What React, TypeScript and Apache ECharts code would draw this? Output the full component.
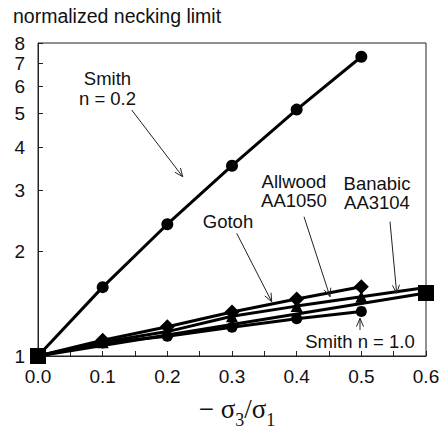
import React, { useEffect, useRef } from "react";
import * as echarts from "echarts";

// ---- data ----
const xShort = [0, 0.1, 0.2, 0.3, 0.4, 0.5];
const xLong = [0, 0.1, 0.2, 0.3, 0.4, 0.5, 0.6];
const smithN02 = [1, 1.58, 2.4, 3.54, 5.14, 7.3];
const smithN10 = [1, 1.09, 1.14, 1.21, 1.28, 1.345];
const gotoh = [1, 1.11, 1.215, 1.34, 1.46, 1.585];
const allwood = [1, 1.096, 1.176, 1.302, 1.393, 1.483, 1.577];
const banabicX = [0, 0.6];
const banabic = [1, 1.52];
const yTickValues = [1, 2, 3, 4, 5, 6, 7, 8];

const SANS = "'Liberation Sans', Arial, Helvetica, sans-serif";
const SERIF = "'Liberation Serif', 'Times New Roman', serif";
const INK = "#111";

function pairs(xs: number[], ys: number[]) {
  return ys.map((y, i) => [xs[i], y]);
}

function arrow(x1: number, y1: number, x2: number, y2: number) {
  const ang = Math.atan2(y2 - y1, x2 - x1);
  const L = 9;
  const a = 0.4;
  const p1 = [x2 - L * Math.cos(ang - a), y2 - L * Math.sin(ang - a)];
  const p2 = [x2 - L * Math.cos(ang + a), y2 - L * Math.sin(ang + a)];
  return [
    { type: "line", shape: { x1, y1, x2, y2 }, style: { stroke: "#222", lineWidth: 1 }, z: 100 },
    {
      type: "polyline",
      shape: { points: [p1, [x2, y2], p2] },
      style: { stroke: "#222", lineWidth: 1, fill: "none" },
      z: 100,
    },
  ];
}

function label(text: string, x: number, y: number, size = 18.5) {
  return {
    type: "text",
    x,
    y,
    z: 100,
    style: {
      text,
      fontSize: size,
      fontFamily: SANS,
      fill: INK,
      align: "center",
      verticalAlign: "middle",
    },
  };
}

export default function App() {
  const ref = useRef<HTMLDivElement>(null);

  useEffect(() => {
    if (!ref.current) return;
    const chart = echarts.init(ref.current, undefined, { renderer: "svg" });

    const lineStyle = { color: "#000", width: 3 };
    const itemStyle = { color: "#000" };

    const allwoodData = allwood.map((v, i) => {
      const hide = i === 0 || i === allwood.length - 1;
      return { value: [xLong[i], v], symbol: hide ? "none" : "triangle" };
    });

    chart.setOption({
      animation: false,
      grid: {
        left: 38,
        right: 17,
        top: 43,
        bottom: 77,
        show: true,
        borderColor: "#222",
        borderWidth: 1,
        backgroundColor: "transparent",
      },
      xAxis: {
        type: "value",
        min: 0,
        max: 0.6,
        interval: 0.1,
        axisLine: { show: true, lineStyle: { color: "#222", width: 1 } },
        axisTick: { show: true, inside: true, length: 5, lineStyle: { color: "#222" } },
        minorTick: { show: true, splitNumber: 2, length: 5, lineStyle: { color: "#222" } },
        splitLine: { show: false },
        axisLabel: {
          color: INK,
          fontSize: 19,
          fontFamily: SANS,
          margin: 11,
          formatter: (v: number) => v.toFixed(1),
        },
      },
      yAxis: {
        type: "log",
        logBase: 10,
        min: 1,
        max: 8,
        axisLine: { show: true, lineStyle: { color: "#222", width: 1 } },
        axisTick: { show: true, inside: true, length: 5, customValues: yTickValues, lineStyle: { color: "#222" } },
        minorTick: { show: false },
        splitLine: { show: false },
        axisLabel: {
          color: INK,
          fontSize: 19,
          fontFamily: SANS,
          margin: 13,
          customValues: yTickValues,
          formatter: (v: number) => String(Math.round(v)),
        },
      },
      series: [
        {
          name: "Smith n = 0.2",
          type: "line",
          data: pairs(xShort, smithN02),
          symbol: "circle",
          symbolSize: 12,
          showSymbol: true,
          lineStyle,
          itemStyle,
          clip: false,
        },
        {
          name: "Smith n = 1.0",
          type: "line",
          data: pairs(xShort, smithN10),
          symbol: "circle",
          symbolSize: 11,
          lineStyle,
          itemStyle,
          clip: false,
        },
        {
          name: "Allwood AA1050",
          type: "line",
          data: allwoodData,
          symbolSize: 12,
          lineStyle,
          itemStyle,
          clip: false,
        },
        {
          name: "Gotoh",
          type: "line",
          data: pairs(xShort, gotoh),
          symbol: "diamond",
          symbolSize: 15,
          lineStyle,
          itemStyle,
          clip: false,
        },
        {
          name: "Banabic AA3104",
          type: "line",
          data: pairs(banabicX, banabic),
          symbol: "rect",
          symbolSize: 16,
          lineStyle,
          itemStyle,
          clip: false,
          z: 5,
        },
      ],
      graphic: [
        {
          type: "text",
          x: 13,
          y: 16,
          style: {
            text: "normalized necking limit",
            fontSize: 19.5,
            fontFamily: SANS,
            fill: INK,
            align: "left",
            verticalAlign: "middle",
          },
        },
        label("Smith", 107.5, 78),
        label("n = 0.2", 107.5, 98),
        label("Allwood", 294, 181),
        label("AA1050", 294, 200),
        label("Banabic", 377, 183),
        label("AA3104", 377, 202),
        label("Gotoh", 228, 221.7),
        label("Smith n = 1.0", 360, 341.7),
        ...arrow(131.7, 110, 182.7, 176.7),
        ...arrow(236.7, 233.3, 271.7, 301.7),
        ...arrow(304, 216.7, 330, 296.7),
        ...arrow(390, 221.7, 396.7, 293.3),
        ...arrow(360, 330, 360, 318.3),
        {
          type: "text",
          x: 237,
          y: 410,
          z: 100,
          style: {
            text: "{a|− σ}{s|3}{a|/σ}{s|1}",
            align: "center",
            verticalAlign: "middle",
            fill: INK,
            rich: {
              a: { fontSize: 27, fontFamily: SERIF, fill: INK, lineHeight: 30, verticalAlign: "top" },
              s: {
                fontSize: 18,
                fontFamily: SERIF,
                fill: INK,
                lineHeight: 18,
                verticalAlign: "top",
                padding: [16, 0, 0, 0],
              },
            },
          },
        },
      ],
    });

    return () => chart.dispose();
  }, []);

  return (
    <div
      ref={ref}
      style={{ position: "fixed", left: 0, top: 0, width: 443, height: 433, background: "#fff" }}
    />
  );
}
